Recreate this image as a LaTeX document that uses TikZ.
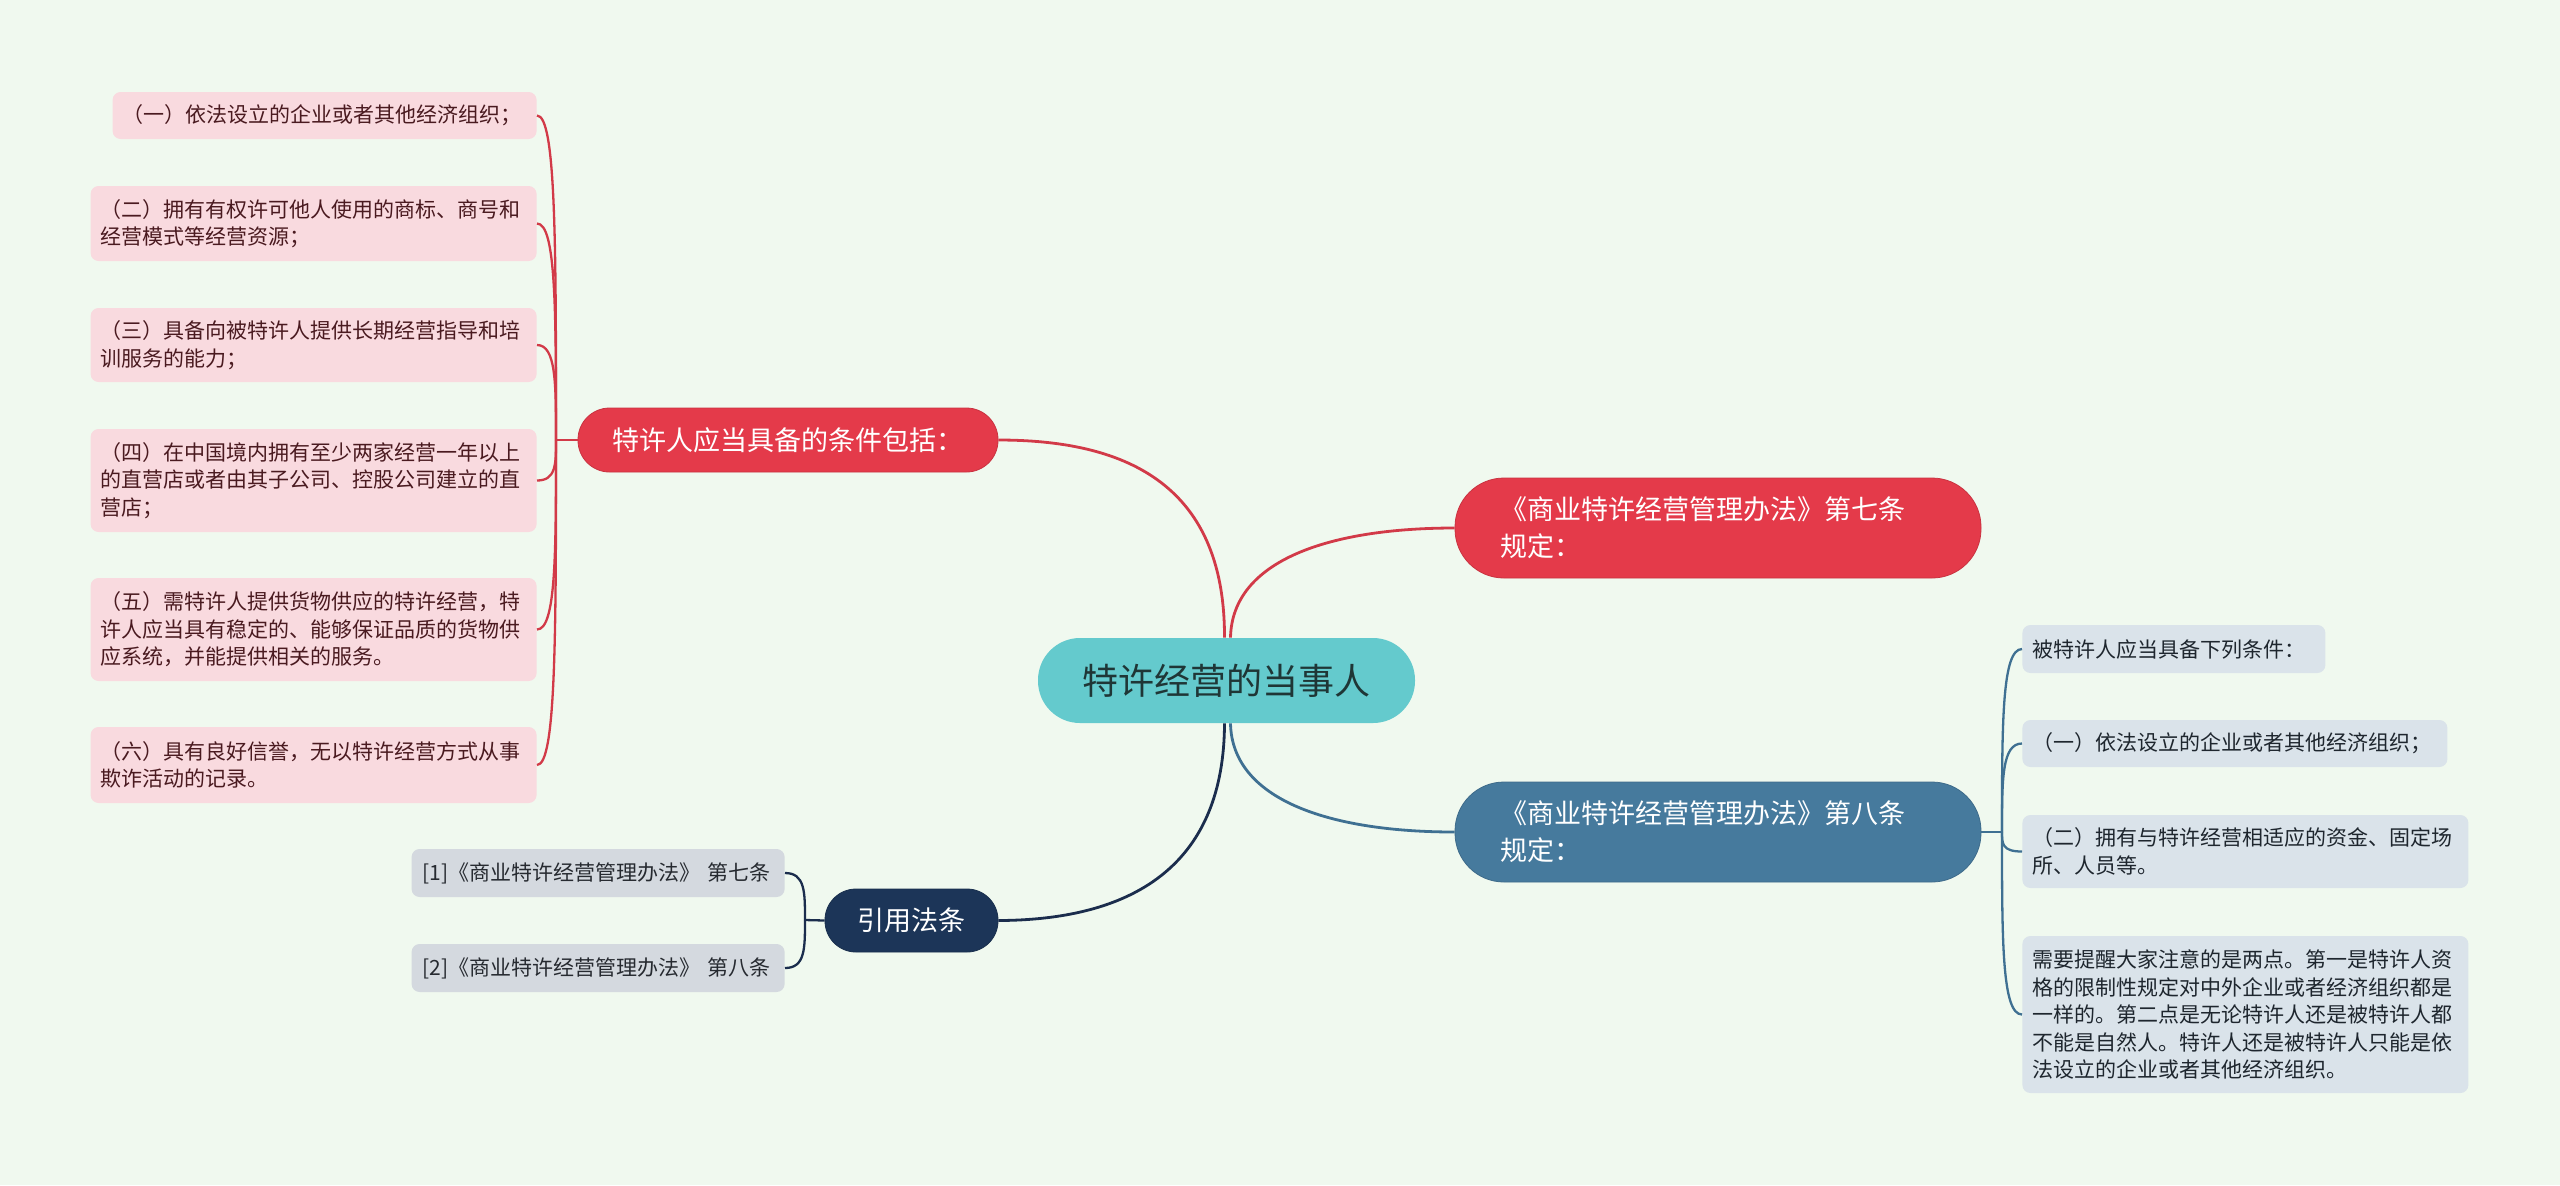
\documentclass[tikz,border=0pt]{standalone}
\usepackage{fontspec}
\setmainfont{Noto Sans CJK SC}
\usetikzlibrary{calc}
\definecolor{cBg}{HTML}{F0F9EF}
\definecolor{cTeal}{HTML}{64CACD}
\definecolor{cTealText}{HTML}{1F3636}
\definecolor{cRed}{HTML}{E43A4A}
\definecolor{cRedLine}{HTML}{D23A48}
\definecolor{cBlue}{HTML}{467A9D}
\definecolor{cBlueLine}{HTML}{3F7092}
\definecolor{cNavy}{HTML}{1C3558}
\definecolor{cNavyLine}{HTML}{1B2D4D}
\definecolor{cPink}{HTML}{F9DADF}
\definecolor{cPinkText}{HTML}{4A1A20}
\definecolor{cGreyBlue}{HTML}{DAE3EA}
\definecolor{cGreyBlueText}{HTML}{1E262E}
\definecolor{cRef}{HTML}{D4D9DF}
\definecolor{cRefText}{HTML}{262A30}
\begin{document}
\begin{tikzpicture}[x=0.5pt,y=-0.5pt,
  pill/.style={rectangle, text=white, inner sep=0pt},
  bigfont/.style={font=\fontsize{13.5}{18.5}\selectfont},
  leaffont/.style={font=\fontsize{10.5}{13.75}\selectfont},
  leafL/.style={rectangle, fill=cPink, text=cPinkText, leaffont, align=left,
    inner xsep=5pt, inner ysep=0pt, rounded corners=4pt, anchor=east},
  leafR/.style={rectangle, fill=cGreyBlue, text=cGreyBlueText, leaffont, align=left,
    inner xsep=5pt, inner ysep=0pt, rounded corners=4pt, anchor=west},
  refleaf/.style={rectangle, fill=cRef, text=cRefText, leaffont, align=left,
    inner xsep=5.5pt, inner ysep=0pt, rounded corners=4pt, anchor=east,
    text width=175.5pt, minimum height=24pt},
  mainedge/.style={line width=1.4pt},
  subedge/.style={line width=1.15pt}
]
\fill[cBg] (0,0) rectangle (2560,1185);
\useasboundingbox (0,0) rectangle (2560,1185);

% central topic
\node[pill, fill=cTeal, text=cTealText, font=\fontsize{18}{22}\selectfont,
  minimum width=188.5pt, minimum height=42.5pt, rounded corners=21pt] (c) at (1226.5,680.5) {特许经营的当事人};

% main branches
\node[pill, fill=cRed, draw=cRed!88!black, line width=0.4pt, bigfont,
  minimum width=210pt, minimum height=32pt, rounded corners=15.8pt] (lb) at (788,440) {特许人应当具备的条件包括：};
\node[pill, fill=cRed, draw=cRed!88!black, line width=0.4pt, bigfont, align=left,
  text width=218pt, inner xsep=22.5pt, minimum height=50pt, rounded corners=24.5pt] (r7) at (1718,528)
  {《商业特许经营管理办法》第七条\\规定：};
\node[pill, fill=cBlue, draw=cBlue!88!black, line width=0.4pt, bigfont, align=left,
  text width=218pt, inner xsep=22.5pt, minimum height=50pt, rounded corners=24.5pt] (b8) at (1718,832)
  {《商业特许经营管理办法》第八条\\规定：};
\node[pill, fill=cNavy, draw=cNavy!88!black, line width=0.4pt, bigfont,
  minimum width=86.5pt, minimum height=31.5pt, rounded corners=15.5pt] (nv) at (911.5,920.5) {引用法条};

% left leaves
\node[leafL, text width=202pt, minimum height=23.5pt] (L1) at (537,115.5)
  {（一）依法设立的企业或者其他经济组织；};
\node[leafL, text width=213pt, minimum height=37.5pt] (L2) at (537,223.5)
  {（二）拥有有权许可他人使用的商标、商号和\\经营模式等经营资源；};
\node[leafL, text width=213pt, minimum height=37pt] (L3) at (537,345)
  {（三）具备向被特许人提供长期经营指导和培\\训服务的能力；};
\node[leafL, text width=213pt, minimum height=51.5pt] (L4) at (537,480.5)
  {（四）在中国境内拥有至少两家经营一年以上\\的直营店或者由其子公司、控股公司建立的直\\营店；};
\node[leafL, text width=213pt, minimum height=51.5pt] (L5) at (537,629.5)
  {（五）需特许人提供货物供应的特许经营，特\\许人应当具有稳定的、能够保证品质的货物供\\应系统，并能提供相关的服务。};
\node[leafL, text width=213pt, minimum height=38pt] (L6) at (537,765)
  {（六）具有良好信誉，无以特许经营方式从事\\欺诈活动的记录。};

% right leaves
\node[leafR, text width=141.5pt, minimum height=24pt] (R0) at (2022,649)
  {被特许人应当具备下列条件：};
\node[leafR, text width=202.5pt, minimum height=23.5pt] (R1) at (2022,743.5)
  {（一）依法设立的企业或者其他经济组织；};
\node[leafR, text width=213pt, minimum height=36.5pt] (R2) at (2022,851.5)
  {（二）拥有与特许经营相适应的资金、固定场\\所、人员等。};
\node[leafR, text width=213pt, minimum height=78.5pt] (R3) at (2022,1014.5)
  {需要提醒大家注意的是两点。第一是特许人资\\格的限制性规定对中外企业或者经济组织都是\\一样的。第二点是无论特许人还是被特许人都\\不能是自然人。特许人还是被特许人只能是依\\法设立的企业或者其他经济组织。};

% reference leaves
\node[refleaf] (F1) at (785,873) {[1]《商业特许经营管理办法》 第七条};
\node[refleaf] (F2) at (785,968) {[2]《商业特许经营管理办法》 第八条};

% trunk points
\coordinate (lt) at (556,440);
\coordinate (bt) at (2002,832);
\coordinate (nt) at (805,920);

% central edges
\draw[mainedge, cRedLine] ([xshift=-1pt]c.north) .. controls (1225,480) and (1120,440) .. (lb.east);
\draw[mainedge, cRedLine] ([xshift=2pt]c.north) .. controls (1232,560) and (1330,528) .. (r7.west);
\draw[mainedge, cBlueLine] ([xshift=2pt]c.south) .. controls (1232,800) and (1330,832) .. (b8.west);
\draw[mainedge, cNavyLine] ([xshift=-1pt]c.south) .. controls (1224,860) and (1140,920) .. (nv.east);

% sub edges
\draw[subedge, cRedLine] (lb.west) -- (lt);
\foreach \n in {L1,L2,L3,L4,L5,L6}
  \draw[subedge, cRedLine] (lt) .. controls ($(lt)!0.6!(lt|-\n.east)$) and (lt|-\n.east) .. (\n.east);
\draw[subedge, cBlueLine] (b8.east) -- (bt);
\foreach \n in {R0,R1,R2,R3}
  \draw[subedge, cBlueLine] (bt) .. controls ($(bt)!0.6!(bt|-\n.west)$) and (bt|-\n.west) .. (\n.west);
\draw[subedge, cNavyLine] (nv.west) -- (nt);
\foreach \n in {F1,F2}
  \draw[subedge, cNavyLine] (nt) .. controls ($(nt)!0.6!(nt|-\n.east)$) and (nt|-\n.east) .. (\n.east);
\end{tikzpicture}
\end{document}
